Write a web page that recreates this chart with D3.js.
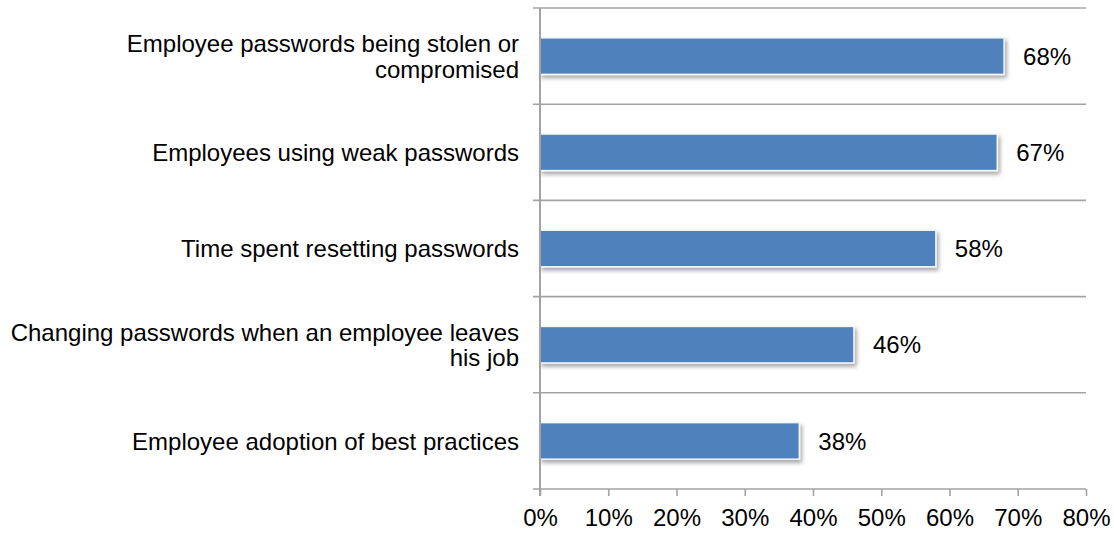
<!DOCTYPE html>
<html>
<head>
<meta charset="utf-8">
<script src="https://cdn.jsdelivr.net/npm/d3@7"></script>
<style>
  html, body { margin: 0; padding: 0; background: #fff; }
  svg { display: block; }
  text { font-family: "Liberation Sans", Arial, Helvetica, sans-serif; fill: #000; }
</style>
</head>
<body>
<svg id="chart" width="1114" height="533"></svg>
<script>
// Categories (each entry is the list of wrapped label lines)
const categories = [
  ["Employee passwords being stolen or", "compromised"],
  ["Employees using weak passwords"],
  ["Time spent resetting passwords"],
  ["Changing passwords when an employee leaves", "his job"],
  ["Employee adoption of best practices"]
];
// Share of respondents per concern
const values = [0.68, 0.67, 0.58, 0.46, 0.38];
// X-axis tick values
const xTicks = [0, 0.1, 0.2, 0.3, 0.4, 0.5, 0.6, 0.7, 0.8];

const svg = d3.select("#chart");
const fontSize = 24;
const lineGap = 25.6;
const gridColor = "#a3a3a3";

const plotLeft = 540, plotRight = 1086, plotTop = 8, plotBottom = 489;

const x = d3.scaleLinear().domain([0, 0.8]).range([plotLeft, plotRight]);
const y = d3.scaleBand()
  .domain(d3.range(categories.length))
  .range([plotTop, plotBottom])
  .paddingInner(0.62)
  .paddingOuter(0.31);

const pct = d3.format(".0%");

// Drop shadow for bars
const defs = svg.append("defs");
const f = defs.append("filter").attr("id", "barShadow")
  .attr("x", "-5%").attr("y", "-30%").attr("width", "115%").attr("height", "180%");
f.append("feDropShadow")
  .attr("dx", 2).attr("dy", 3).attr("stdDeviation", 2)
  .attr("flood-color", "#000").attr("flood-opacity", 0.35);

// Category separators (span from outer tick to the plot's right edge)
const step = y.step();
const seps = d3.range(categories.length).map(i => plotTop + i * step);
svg.append("g").selectAll("line").data(seps).join("line")
  .attr("x1", plotLeft - 7).attr("x2", plotRight)
  .attr("y1", d => d).attr("y2", d => d)
  .attr("stroke", gridColor).attr("stroke-width", 1.6);

// Bars
svg.append("g").selectAll("rect").data(values).join("rect")
  .attr("x", x(0))
  .attr("y", (d, i) => y(i))
  .attr("width", d => x(d) - x(0))
  .attr("height", y.bandwidth())
  .attr("fill", "#4f81bd")
  .attr("stroke", "#f4f6fa")
  .attr("stroke-width", 1.5)
  .attr("filter", "url(#barShadow)");

// Value labels
svg.append("g").selectAll("text").data(values).join("text")
  .attr("x", d => x(d) + 19)
  .attr("y", (d, i) => y(i) + y.bandwidth() / 2)
  .attr("dy", "0.36em")
  .attr("font-size", fontSize)
  .text(d => pct(d));

// Bottom axis
const xAxis = d3.axisBottom(x)
  .tickValues(xTicks)
  .tickFormat(pct)
  .tickSize(7)
  .tickSizeOuter(0)
  .tickPadding(13);
const gx = svg.append("g")
  .attr("transform", `translate(0,${plotBottom})`)
  .call(xAxis);
gx.select(".domain").remove();
gx.selectAll(".tick line").attr("stroke", gridColor).attr("stroke-width", 1.6);
gx.selectAll(".tick text")
  .attr("font-size", fontSize)
  .attr("font-family", "Liberation Sans, Arial, sans-serif")
  .attr("fill", "#000");
gx.append("line")
  .attr("x1", plotLeft - 7).attr("x2", plotRight)
  .attr("y1", 0).attr("y2", 0)
  .attr("stroke", gridColor).attr("stroke-width", 1.6);

// Vertical axis line
svg.append("line")
  .attr("x1", plotLeft).attr("x2", plotLeft)
  .attr("y1", plotTop).attr("y2", plotBottom + 7)
  .attr("stroke", gridColor).attr("stroke-width", 2);

// Category labels, right-aligned and centred on their band
const lab = svg.append("g").selectAll("text").data(categories).join("text")
  .attr("text-anchor", "end")
  .attr("font-size", fontSize);
lab.each(function (lines, i) {
  const cy = y(i) + y.bandwidth() / 2;
  const first = cy - (lines.length - 1) * lineGap / 2;
  d3.select(this).selectAll("tspan").data(lines).join("tspan")
    .attr("x", 519)
    .attr("y", (d, k) => first + k * lineGap)
    .attr("dy", "0.36em")
    .text(d => d);
});
</script>
</body>
</html>
